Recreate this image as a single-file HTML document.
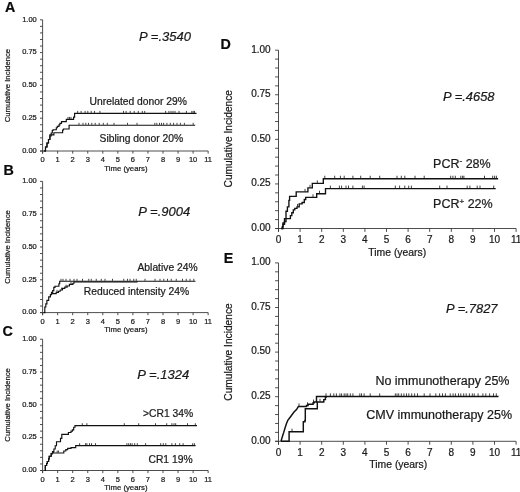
<!DOCTYPE html>
<html><head><meta charset="utf-8"><style>
html,body{margin:0;padding:0;background:#fff;}
body{width:520px;height:492px;overflow:hidden;}
svg{display:block;font-family:"Liberation Sans", sans-serif;filter:blur(0.3px);}
text{stroke:#1a1a1a;stroke-width:0.22px;}
</style></head><body>
<svg width="520" height="492" viewBox="0 0 520 492">
<rect width="520" height="492" fill="#fff"/>
<text x="5.00" y="11.80" font-size="14.3" text-anchor="start" font-weight="bold" fill="#0a0a0a">A</text>
<line x1="42.60" y1="19.80" x2="42.60" y2="153.60" stroke="#3a3a3a" stroke-width="0.9"/>
<line x1="40.00" y1="151.00" x2="208.15" y2="151.00" stroke="#3a3a3a" stroke-width="0.9"/>
<line x1="40.00" y1="151.00" x2="42.60" y2="151.00" stroke="#3a3a3a" stroke-width="0.9"/>
<line x1="40.00" y1="144.44" x2="42.60" y2="144.44" stroke="#3a3a3a" stroke-width="0.9"/>
<line x1="40.00" y1="137.88" x2="42.60" y2="137.88" stroke="#3a3a3a" stroke-width="0.9"/>
<line x1="40.00" y1="131.32" x2="42.60" y2="131.32" stroke="#3a3a3a" stroke-width="0.9"/>
<line x1="40.00" y1="124.76" x2="42.60" y2="124.76" stroke="#3a3a3a" stroke-width="0.9"/>
<line x1="40.00" y1="118.20" x2="42.60" y2="118.20" stroke="#3a3a3a" stroke-width="0.9"/>
<line x1="40.00" y1="111.64" x2="42.60" y2="111.64" stroke="#3a3a3a" stroke-width="0.9"/>
<line x1="40.00" y1="105.08" x2="42.60" y2="105.08" stroke="#3a3a3a" stroke-width="0.9"/>
<line x1="40.00" y1="98.52" x2="42.60" y2="98.52" stroke="#3a3a3a" stroke-width="0.9"/>
<line x1="40.00" y1="91.96" x2="42.60" y2="91.96" stroke="#3a3a3a" stroke-width="0.9"/>
<line x1="40.00" y1="85.40" x2="42.60" y2="85.40" stroke="#3a3a3a" stroke-width="0.9"/>
<line x1="40.00" y1="78.84" x2="42.60" y2="78.84" stroke="#3a3a3a" stroke-width="0.9"/>
<line x1="40.00" y1="72.28" x2="42.60" y2="72.28" stroke="#3a3a3a" stroke-width="0.9"/>
<line x1="40.00" y1="65.72" x2="42.60" y2="65.72" stroke="#3a3a3a" stroke-width="0.9"/>
<line x1="40.00" y1="59.16" x2="42.60" y2="59.16" stroke="#3a3a3a" stroke-width="0.9"/>
<line x1="40.00" y1="52.60" x2="42.60" y2="52.60" stroke="#3a3a3a" stroke-width="0.9"/>
<line x1="40.00" y1="46.04" x2="42.60" y2="46.04" stroke="#3a3a3a" stroke-width="0.9"/>
<line x1="40.00" y1="39.48" x2="42.60" y2="39.48" stroke="#3a3a3a" stroke-width="0.9"/>
<line x1="40.00" y1="32.92" x2="42.60" y2="32.92" stroke="#3a3a3a" stroke-width="0.9"/>
<line x1="40.00" y1="26.36" x2="42.60" y2="26.36" stroke="#3a3a3a" stroke-width="0.9"/>
<line x1="40.00" y1="19.80" x2="42.60" y2="19.80" stroke="#3a3a3a" stroke-width="0.9"/>
<text x="36.80" y="152.75" font-size="7.5" text-anchor="end" font-weight="normal" fill="#1a1a1a">0.00</text>
<text x="36.80" y="119.95" font-size="7.5" text-anchor="end" font-weight="normal" fill="#1a1a1a">0.25</text>
<text x="36.80" y="87.16" font-size="7.5" text-anchor="end" font-weight="normal" fill="#1a1a1a">0.50</text>
<text x="36.80" y="54.36" font-size="7.5" text-anchor="end" font-weight="normal" fill="#1a1a1a">0.75</text>
<text x="36.80" y="21.56" font-size="7.5" text-anchor="end" font-weight="normal" fill="#1a1a1a">1.00</text>
<line x1="42.60" y1="151.00" x2="42.60" y2="153.60" stroke="#3a3a3a" stroke-width="0.9"/>
<text x="42.60" y="162.10" font-size="7.5" text-anchor="middle" font-weight="normal" fill="#1a1a1a">0</text>
<line x1="57.65" y1="151.00" x2="57.65" y2="153.60" stroke="#3a3a3a" stroke-width="0.9"/>
<text x="57.65" y="162.10" font-size="7.5" text-anchor="middle" font-weight="normal" fill="#1a1a1a">1</text>
<line x1="72.70" y1="151.00" x2="72.70" y2="153.60" stroke="#3a3a3a" stroke-width="0.9"/>
<text x="72.70" y="162.10" font-size="7.5" text-anchor="middle" font-weight="normal" fill="#1a1a1a">2</text>
<line x1="87.75" y1="151.00" x2="87.75" y2="153.60" stroke="#3a3a3a" stroke-width="0.9"/>
<text x="87.75" y="162.10" font-size="7.5" text-anchor="middle" font-weight="normal" fill="#1a1a1a">3</text>
<line x1="102.80" y1="151.00" x2="102.80" y2="153.60" stroke="#3a3a3a" stroke-width="0.9"/>
<text x="102.80" y="162.10" font-size="7.5" text-anchor="middle" font-weight="normal" fill="#1a1a1a">4</text>
<line x1="117.85" y1="151.00" x2="117.85" y2="153.60" stroke="#3a3a3a" stroke-width="0.9"/>
<text x="117.85" y="162.10" font-size="7.5" text-anchor="middle" font-weight="normal" fill="#1a1a1a">5</text>
<line x1="132.90" y1="151.00" x2="132.90" y2="153.60" stroke="#3a3a3a" stroke-width="0.9"/>
<text x="132.90" y="162.10" font-size="7.5" text-anchor="middle" font-weight="normal" fill="#1a1a1a">6</text>
<line x1="147.95" y1="151.00" x2="147.95" y2="153.60" stroke="#3a3a3a" stroke-width="0.9"/>
<text x="147.95" y="162.10" font-size="7.5" text-anchor="middle" font-weight="normal" fill="#1a1a1a">7</text>
<line x1="163.00" y1="151.00" x2="163.00" y2="153.60" stroke="#3a3a3a" stroke-width="0.9"/>
<text x="163.00" y="162.10" font-size="7.5" text-anchor="middle" font-weight="normal" fill="#1a1a1a">8</text>
<line x1="178.05" y1="151.00" x2="178.05" y2="153.60" stroke="#3a3a3a" stroke-width="0.9"/>
<text x="178.05" y="162.10" font-size="7.5" text-anchor="middle" font-weight="normal" fill="#1a1a1a">9</text>
<line x1="193.10" y1="151.00" x2="193.10" y2="153.60" stroke="#3a3a3a" stroke-width="0.9"/>
<text x="193.10" y="162.10" font-size="7.5" text-anchor="middle" font-weight="normal" fill="#1a1a1a">10</text>
<line x1="208.15" y1="151.00" x2="208.15" y2="153.60" stroke="#3a3a3a" stroke-width="0.9"/>
<text x="208.15" y="162.10" font-size="7.5" text-anchor="middle" font-weight="normal" fill="#1a1a1a">11</text>
<text x="104.30" y="170.70" font-size="7.75" text-anchor="start" font-weight="normal" fill="#1a1a1a">Time (years)</text>
<text x="0" y="0" font-size="7.7" text-anchor="middle" fill="#1a1a1a" transform="translate(9.80,85.60) rotate(-90)">Cumulative Incidence</text>
<text x="3.60" y="174.90" font-size="14.3" text-anchor="start" font-weight="bold" fill="#0a0a0a">B</text>
<line x1="42.60" y1="181.40" x2="42.60" y2="315.20" stroke="#3a3a3a" stroke-width="0.9"/>
<line x1="40.00" y1="312.60" x2="208.15" y2="312.60" stroke="#3a3a3a" stroke-width="0.9"/>
<line x1="40.00" y1="312.60" x2="42.60" y2="312.60" stroke="#3a3a3a" stroke-width="0.9"/>
<line x1="40.00" y1="306.04" x2="42.60" y2="306.04" stroke="#3a3a3a" stroke-width="0.9"/>
<line x1="40.00" y1="299.48" x2="42.60" y2="299.48" stroke="#3a3a3a" stroke-width="0.9"/>
<line x1="40.00" y1="292.92" x2="42.60" y2="292.92" stroke="#3a3a3a" stroke-width="0.9"/>
<line x1="40.00" y1="286.36" x2="42.60" y2="286.36" stroke="#3a3a3a" stroke-width="0.9"/>
<line x1="40.00" y1="279.80" x2="42.60" y2="279.80" stroke="#3a3a3a" stroke-width="0.9"/>
<line x1="40.00" y1="273.24" x2="42.60" y2="273.24" stroke="#3a3a3a" stroke-width="0.9"/>
<line x1="40.00" y1="266.68" x2="42.60" y2="266.68" stroke="#3a3a3a" stroke-width="0.9"/>
<line x1="40.00" y1="260.12" x2="42.60" y2="260.12" stroke="#3a3a3a" stroke-width="0.9"/>
<line x1="40.00" y1="253.56" x2="42.60" y2="253.56" stroke="#3a3a3a" stroke-width="0.9"/>
<line x1="40.00" y1="247.00" x2="42.60" y2="247.00" stroke="#3a3a3a" stroke-width="0.9"/>
<line x1="40.00" y1="240.44" x2="42.60" y2="240.44" stroke="#3a3a3a" stroke-width="0.9"/>
<line x1="40.00" y1="233.88" x2="42.60" y2="233.88" stroke="#3a3a3a" stroke-width="0.9"/>
<line x1="40.00" y1="227.32" x2="42.60" y2="227.32" stroke="#3a3a3a" stroke-width="0.9"/>
<line x1="40.00" y1="220.76" x2="42.60" y2="220.76" stroke="#3a3a3a" stroke-width="0.9"/>
<line x1="40.00" y1="214.20" x2="42.60" y2="214.20" stroke="#3a3a3a" stroke-width="0.9"/>
<line x1="40.00" y1="207.64" x2="42.60" y2="207.64" stroke="#3a3a3a" stroke-width="0.9"/>
<line x1="40.00" y1="201.08" x2="42.60" y2="201.08" stroke="#3a3a3a" stroke-width="0.9"/>
<line x1="40.00" y1="194.52" x2="42.60" y2="194.52" stroke="#3a3a3a" stroke-width="0.9"/>
<line x1="40.00" y1="187.96" x2="42.60" y2="187.96" stroke="#3a3a3a" stroke-width="0.9"/>
<line x1="40.00" y1="181.40" x2="42.60" y2="181.40" stroke="#3a3a3a" stroke-width="0.9"/>
<text x="36.80" y="314.36" font-size="7.5" text-anchor="end" font-weight="normal" fill="#1a1a1a">0.00</text>
<text x="36.80" y="281.56" font-size="7.5" text-anchor="end" font-weight="normal" fill="#1a1a1a">0.25</text>
<text x="36.80" y="248.75" font-size="7.5" text-anchor="end" font-weight="normal" fill="#1a1a1a">0.50</text>
<text x="36.80" y="215.96" font-size="7.5" text-anchor="end" font-weight="normal" fill="#1a1a1a">0.75</text>
<text x="36.80" y="183.16" font-size="7.5" text-anchor="end" font-weight="normal" fill="#1a1a1a">1.00</text>
<line x1="42.60" y1="312.60" x2="42.60" y2="315.20" stroke="#3a3a3a" stroke-width="0.9"/>
<text x="42.60" y="323.70" font-size="7.5" text-anchor="middle" font-weight="normal" fill="#1a1a1a">0</text>
<line x1="57.65" y1="312.60" x2="57.65" y2="315.20" stroke="#3a3a3a" stroke-width="0.9"/>
<text x="57.65" y="323.70" font-size="7.5" text-anchor="middle" font-weight="normal" fill="#1a1a1a">1</text>
<line x1="72.70" y1="312.60" x2="72.70" y2="315.20" stroke="#3a3a3a" stroke-width="0.9"/>
<text x="72.70" y="323.70" font-size="7.5" text-anchor="middle" font-weight="normal" fill="#1a1a1a">2</text>
<line x1="87.75" y1="312.60" x2="87.75" y2="315.20" stroke="#3a3a3a" stroke-width="0.9"/>
<text x="87.75" y="323.70" font-size="7.5" text-anchor="middle" font-weight="normal" fill="#1a1a1a">3</text>
<line x1="102.80" y1="312.60" x2="102.80" y2="315.20" stroke="#3a3a3a" stroke-width="0.9"/>
<text x="102.80" y="323.70" font-size="7.5" text-anchor="middle" font-weight="normal" fill="#1a1a1a">4</text>
<line x1="117.85" y1="312.60" x2="117.85" y2="315.20" stroke="#3a3a3a" stroke-width="0.9"/>
<text x="117.85" y="323.70" font-size="7.5" text-anchor="middle" font-weight="normal" fill="#1a1a1a">5</text>
<line x1="132.90" y1="312.60" x2="132.90" y2="315.20" stroke="#3a3a3a" stroke-width="0.9"/>
<text x="132.90" y="323.70" font-size="7.5" text-anchor="middle" font-weight="normal" fill="#1a1a1a">6</text>
<line x1="147.95" y1="312.60" x2="147.95" y2="315.20" stroke="#3a3a3a" stroke-width="0.9"/>
<text x="147.95" y="323.70" font-size="7.5" text-anchor="middle" font-weight="normal" fill="#1a1a1a">7</text>
<line x1="163.00" y1="312.60" x2="163.00" y2="315.20" stroke="#3a3a3a" stroke-width="0.9"/>
<text x="163.00" y="323.70" font-size="7.5" text-anchor="middle" font-weight="normal" fill="#1a1a1a">8</text>
<line x1="178.05" y1="312.60" x2="178.05" y2="315.20" stroke="#3a3a3a" stroke-width="0.9"/>
<text x="178.05" y="323.70" font-size="7.5" text-anchor="middle" font-weight="normal" fill="#1a1a1a">9</text>
<line x1="193.10" y1="312.60" x2="193.10" y2="315.20" stroke="#3a3a3a" stroke-width="0.9"/>
<text x="193.10" y="323.70" font-size="7.5" text-anchor="middle" font-weight="normal" fill="#1a1a1a">10</text>
<line x1="208.15" y1="312.60" x2="208.15" y2="315.20" stroke="#3a3a3a" stroke-width="0.9"/>
<text x="208.15" y="323.70" font-size="7.5" text-anchor="middle" font-weight="normal" fill="#1a1a1a">11</text>
<text x="104.30" y="332.30" font-size="7.75" text-anchor="start" font-weight="normal" fill="#1a1a1a">Time (years)</text>
<text x="0" y="0" font-size="7.7" text-anchor="middle" fill="#1a1a1a" transform="translate(9.80,247.00) rotate(-90)">Cumulative Incidence</text>
<text x="2.60" y="336.30" font-size="14.3" text-anchor="start" font-weight="bold" fill="#0a0a0a">C</text>
<line x1="42.60" y1="339.20" x2="42.60" y2="473.10" stroke="#3a3a3a" stroke-width="0.9"/>
<line x1="40.00" y1="470.50" x2="208.15" y2="470.50" stroke="#3a3a3a" stroke-width="0.9"/>
<line x1="40.00" y1="470.50" x2="42.60" y2="470.50" stroke="#3a3a3a" stroke-width="0.9"/>
<line x1="40.00" y1="463.94" x2="42.60" y2="463.94" stroke="#3a3a3a" stroke-width="0.9"/>
<line x1="40.00" y1="457.37" x2="42.60" y2="457.37" stroke="#3a3a3a" stroke-width="0.9"/>
<line x1="40.00" y1="450.81" x2="42.60" y2="450.81" stroke="#3a3a3a" stroke-width="0.9"/>
<line x1="40.00" y1="444.24" x2="42.60" y2="444.24" stroke="#3a3a3a" stroke-width="0.9"/>
<line x1="40.00" y1="437.68" x2="42.60" y2="437.68" stroke="#3a3a3a" stroke-width="0.9"/>
<line x1="40.00" y1="431.11" x2="42.60" y2="431.11" stroke="#3a3a3a" stroke-width="0.9"/>
<line x1="40.00" y1="424.55" x2="42.60" y2="424.55" stroke="#3a3a3a" stroke-width="0.9"/>
<line x1="40.00" y1="417.98" x2="42.60" y2="417.98" stroke="#3a3a3a" stroke-width="0.9"/>
<line x1="40.00" y1="411.42" x2="42.60" y2="411.42" stroke="#3a3a3a" stroke-width="0.9"/>
<line x1="40.00" y1="404.85" x2="42.60" y2="404.85" stroke="#3a3a3a" stroke-width="0.9"/>
<line x1="40.00" y1="398.28" x2="42.60" y2="398.28" stroke="#3a3a3a" stroke-width="0.9"/>
<line x1="40.00" y1="391.72" x2="42.60" y2="391.72" stroke="#3a3a3a" stroke-width="0.9"/>
<line x1="40.00" y1="385.15" x2="42.60" y2="385.15" stroke="#3a3a3a" stroke-width="0.9"/>
<line x1="40.00" y1="378.59" x2="42.60" y2="378.59" stroke="#3a3a3a" stroke-width="0.9"/>
<line x1="40.00" y1="372.02" x2="42.60" y2="372.02" stroke="#3a3a3a" stroke-width="0.9"/>
<line x1="40.00" y1="365.46" x2="42.60" y2="365.46" stroke="#3a3a3a" stroke-width="0.9"/>
<line x1="40.00" y1="358.89" x2="42.60" y2="358.89" stroke="#3a3a3a" stroke-width="0.9"/>
<line x1="40.00" y1="352.33" x2="42.60" y2="352.33" stroke="#3a3a3a" stroke-width="0.9"/>
<line x1="40.00" y1="345.76" x2="42.60" y2="345.76" stroke="#3a3a3a" stroke-width="0.9"/>
<line x1="40.00" y1="339.20" x2="42.60" y2="339.20" stroke="#3a3a3a" stroke-width="0.9"/>
<text x="36.80" y="472.25" font-size="7.5" text-anchor="end" font-weight="normal" fill="#1a1a1a">0.00</text>
<text x="36.80" y="439.43" font-size="7.5" text-anchor="end" font-weight="normal" fill="#1a1a1a">0.25</text>
<text x="36.80" y="406.61" font-size="7.5" text-anchor="end" font-weight="normal" fill="#1a1a1a">0.50</text>
<text x="36.80" y="373.78" font-size="7.5" text-anchor="end" font-weight="normal" fill="#1a1a1a">0.75</text>
<text x="36.80" y="340.95" font-size="7.5" text-anchor="end" font-weight="normal" fill="#1a1a1a">1.00</text>
<line x1="42.60" y1="470.50" x2="42.60" y2="473.10" stroke="#3a3a3a" stroke-width="0.9"/>
<text x="42.60" y="481.60" font-size="7.5" text-anchor="middle" font-weight="normal" fill="#1a1a1a">0</text>
<line x1="57.65" y1="470.50" x2="57.65" y2="473.10" stroke="#3a3a3a" stroke-width="0.9"/>
<text x="57.65" y="481.60" font-size="7.5" text-anchor="middle" font-weight="normal" fill="#1a1a1a">1</text>
<line x1="72.70" y1="470.50" x2="72.70" y2="473.10" stroke="#3a3a3a" stroke-width="0.9"/>
<text x="72.70" y="481.60" font-size="7.5" text-anchor="middle" font-weight="normal" fill="#1a1a1a">2</text>
<line x1="87.75" y1="470.50" x2="87.75" y2="473.10" stroke="#3a3a3a" stroke-width="0.9"/>
<text x="87.75" y="481.60" font-size="7.5" text-anchor="middle" font-weight="normal" fill="#1a1a1a">3</text>
<line x1="102.80" y1="470.50" x2="102.80" y2="473.10" stroke="#3a3a3a" stroke-width="0.9"/>
<text x="102.80" y="481.60" font-size="7.5" text-anchor="middle" font-weight="normal" fill="#1a1a1a">4</text>
<line x1="117.85" y1="470.50" x2="117.85" y2="473.10" stroke="#3a3a3a" stroke-width="0.9"/>
<text x="117.85" y="481.60" font-size="7.5" text-anchor="middle" font-weight="normal" fill="#1a1a1a">5</text>
<line x1="132.90" y1="470.50" x2="132.90" y2="473.10" stroke="#3a3a3a" stroke-width="0.9"/>
<text x="132.90" y="481.60" font-size="7.5" text-anchor="middle" font-weight="normal" fill="#1a1a1a">6</text>
<line x1="147.95" y1="470.50" x2="147.95" y2="473.10" stroke="#3a3a3a" stroke-width="0.9"/>
<text x="147.95" y="481.60" font-size="7.5" text-anchor="middle" font-weight="normal" fill="#1a1a1a">7</text>
<line x1="163.00" y1="470.50" x2="163.00" y2="473.10" stroke="#3a3a3a" stroke-width="0.9"/>
<text x="163.00" y="481.60" font-size="7.5" text-anchor="middle" font-weight="normal" fill="#1a1a1a">8</text>
<line x1="178.05" y1="470.50" x2="178.05" y2="473.10" stroke="#3a3a3a" stroke-width="0.9"/>
<text x="178.05" y="481.60" font-size="7.5" text-anchor="middle" font-weight="normal" fill="#1a1a1a">9</text>
<line x1="193.10" y1="470.50" x2="193.10" y2="473.10" stroke="#3a3a3a" stroke-width="0.9"/>
<text x="193.10" y="481.60" font-size="7.5" text-anchor="middle" font-weight="normal" fill="#1a1a1a">10</text>
<line x1="208.15" y1="470.50" x2="208.15" y2="473.10" stroke="#3a3a3a" stroke-width="0.9"/>
<text x="208.15" y="481.60" font-size="7.5" text-anchor="middle" font-weight="normal" fill="#1a1a1a">11</text>
<text x="104.30" y="490.20" font-size="7.75" text-anchor="start" font-weight="normal" fill="#1a1a1a">Time (years)</text>
<text x="0" y="0" font-size="7.7" text-anchor="middle" fill="#1a1a1a" transform="translate(9.80,404.90) rotate(-90)">Cumulative Incidence</text>
<text x="139.00" y="40.90" font-size="13" text-anchor="start" font-weight="normal" font-style="italic" fill="#1a1a1a">P =.3540</text>
<text x="89.60" y="105.20" font-size="10.3" text-anchor="start" font-weight="normal" fill="#1a1a1a">Unrelated donor 29%</text>
<text x="99.60" y="141.60" font-size="10.3" text-anchor="start" font-weight="normal" fill="#1a1a1a">Sibling donor 20%</text>
<polyline points="43.80,151.00 45.50,151.00 45.50,147.00 47.00,147.00 47.00,143.00 48.50,143.00 48.50,139.50 50.00,139.50 50.00,136.00 51.20,136.00 51.20,133.00 52.30,133.00 52.30,130.50 53.00,130.50 53.00,129.70 55.90,129.70 56.30,129.70 56.30,127.70 57.30,127.70 57.30,126.30 59.00,126.30 59.00,124.90 59.90,124.90 59.90,123.40 61.50,123.40 61.50,121.60 66.30,121.60 66.30,119.30 73.60,119.30 73.60,117.10 74.60,117.10 74.60,113.30 196.50,113.30" fill="none" stroke="#111" stroke-width="1.15" stroke-linejoin="miter" stroke-linecap="butt"/>
<polyline points="43.80,151.00 45.50,151.00 45.50,147.00 47.00,147.00 47.00,143.00 48.50,143.00 48.50,139.50 49.80,139.50 49.80,134.80 51.20,134.80 52.00,134.80 53.90,134.80 53.90,132.70 62.60,132.70 62.60,130.00 63.50,130.00 63.50,129.00 69.10,129.00 69.10,125.20 195.20,125.20" fill="none" stroke="#111" stroke-width="1.15" stroke-linejoin="miter" stroke-linecap="butt"/>
<line x1="68.00" y1="118.92" x2="68.00" y2="116.92" stroke="#111" stroke-width="0.8"/>
<line x1="69.50" y1="118.92" x2="69.50" y2="116.92" stroke="#111" stroke-width="0.8"/>
<line x1="71.00" y1="118.92" x2="71.00" y2="116.92" stroke="#111" stroke-width="0.8"/>
<line x1="77.70" y1="112.92" x2="77.70" y2="110.92" stroke="#111" stroke-width="0.8"/>
<line x1="81.10" y1="112.92" x2="81.10" y2="110.92" stroke="#111" stroke-width="0.8"/>
<line x1="85.10" y1="112.92" x2="85.10" y2="110.92" stroke="#111" stroke-width="0.8"/>
<line x1="87.80" y1="112.92" x2="87.80" y2="110.92" stroke="#111" stroke-width="0.8"/>
<line x1="91.20" y1="112.92" x2="91.20" y2="110.92" stroke="#111" stroke-width="0.8"/>
<line x1="94.50" y1="112.92" x2="94.50" y2="110.92" stroke="#111" stroke-width="0.8"/>
<line x1="99.90" y1="112.92" x2="99.90" y2="110.92" stroke="#111" stroke-width="0.8"/>
<line x1="123.50" y1="112.92" x2="123.50" y2="110.92" stroke="#111" stroke-width="0.8"/>
<line x1="126.10" y1="112.92" x2="126.10" y2="110.92" stroke="#111" stroke-width="0.8"/>
<line x1="130.20" y1="112.92" x2="130.20" y2="110.92" stroke="#111" stroke-width="0.8"/>
<line x1="134.20" y1="112.92" x2="134.20" y2="110.92" stroke="#111" stroke-width="0.8"/>
<line x1="138.30" y1="112.92" x2="138.30" y2="110.92" stroke="#111" stroke-width="0.8"/>
<line x1="142.30" y1="112.92" x2="142.30" y2="110.92" stroke="#111" stroke-width="0.8"/>
<line x1="144.70" y1="112.92" x2="144.70" y2="110.92" stroke="#111" stroke-width="0.8"/>
<line x1="165.60" y1="112.92" x2="165.60" y2="110.92" stroke="#111" stroke-width="0.8"/>
<line x1="168.90" y1="112.92" x2="168.90" y2="110.92" stroke="#111" stroke-width="0.8"/>
<line x1="171.00" y1="112.92" x2="171.00" y2="110.92" stroke="#111" stroke-width="0.8"/>
<line x1="173.00" y1="112.92" x2="173.00" y2="110.92" stroke="#111" stroke-width="0.8"/>
<line x1="175.00" y1="112.92" x2="175.00" y2="110.92" stroke="#111" stroke-width="0.8"/>
<line x1="179.00" y1="112.92" x2="179.00" y2="110.92" stroke="#111" stroke-width="0.8"/>
<line x1="186.40" y1="112.92" x2="186.40" y2="110.92" stroke="#111" stroke-width="0.8"/>
<line x1="191.80" y1="112.92" x2="191.80" y2="110.92" stroke="#111" stroke-width="0.8"/>
<line x1="193.20" y1="112.92" x2="193.20" y2="110.92" stroke="#111" stroke-width="0.8"/>
<line x1="194.50" y1="112.92" x2="194.50" y2="110.92" stroke="#111" stroke-width="0.8"/>
<line x1="79.00" y1="124.83" x2="79.00" y2="122.83" stroke="#111" stroke-width="0.8"/>
<line x1="83.00" y1="124.83" x2="83.00" y2="122.83" stroke="#111" stroke-width="0.8"/>
<line x1="85.80" y1="124.83" x2="85.80" y2="122.83" stroke="#111" stroke-width="0.8"/>
<line x1="88.50" y1="124.83" x2="88.50" y2="122.83" stroke="#111" stroke-width="0.8"/>
<line x1="91.80" y1="124.83" x2="91.80" y2="122.83" stroke="#111" stroke-width="0.8"/>
<line x1="95.20" y1="124.83" x2="95.20" y2="122.83" stroke="#111" stroke-width="0.8"/>
<line x1="99.20" y1="124.83" x2="99.20" y2="122.83" stroke="#111" stroke-width="0.8"/>
<line x1="103.30" y1="124.83" x2="103.30" y2="122.83" stroke="#111" stroke-width="0.8"/>
<line x1="107.30" y1="124.83" x2="107.30" y2="122.83" stroke="#111" stroke-width="0.8"/>
<line x1="114.00" y1="124.83" x2="114.00" y2="122.83" stroke="#111" stroke-width="0.8"/>
<line x1="127.50" y1="124.83" x2="127.50" y2="122.83" stroke="#111" stroke-width="0.8"/>
<line x1="137.00" y1="124.83" x2="137.00" y2="122.83" stroke="#111" stroke-width="0.8"/>
<line x1="154.80" y1="124.83" x2="154.80" y2="122.83" stroke="#111" stroke-width="0.8"/>
<line x1="156.80" y1="124.83" x2="156.80" y2="122.83" stroke="#111" stroke-width="0.8"/>
<line x1="159.50" y1="124.83" x2="159.50" y2="122.83" stroke="#111" stroke-width="0.8"/>
<line x1="161.50" y1="124.83" x2="161.50" y2="122.83" stroke="#111" stroke-width="0.8"/>
<line x1="163.60" y1="124.83" x2="163.60" y2="122.83" stroke="#111" stroke-width="0.8"/>
<line x1="166.90" y1="124.83" x2="166.90" y2="122.83" stroke="#111" stroke-width="0.8"/>
<line x1="170.30" y1="124.83" x2="170.30" y2="122.83" stroke="#111" stroke-width="0.8"/>
<line x1="173.60" y1="124.83" x2="173.60" y2="122.83" stroke="#111" stroke-width="0.8"/>
<line x1="177.00" y1="124.83" x2="177.00" y2="122.83" stroke="#111" stroke-width="0.8"/>
<line x1="180.40" y1="124.83" x2="180.40" y2="122.83" stroke="#111" stroke-width="0.8"/>
<line x1="184.40" y1="124.83" x2="184.40" y2="122.83" stroke="#111" stroke-width="0.8"/>
<line x1="193.20" y1="124.83" x2="193.20" y2="122.83" stroke="#111" stroke-width="0.8"/>
<text x="138.30" y="215.90" font-size="13" text-anchor="start" font-weight="normal" font-style="italic" fill="#1a1a1a">P =.9004</text>
<text x="137.50" y="270.50" font-size="10.3" text-anchor="start" font-weight="normal" fill="#1a1a1a">Ablative 24%</text>
<text x="83.80" y="295.00" font-size="10.3" text-anchor="start" font-weight="normal" fill="#1a1a1a">Reduced intensity 24%</text>
<polyline points="43.50,312.60 44.80,312.60 44.80,307.00 45.80,307.00 45.80,303.80 46.90,303.80 46.90,300.40 48.70,300.40 48.70,296.90 50.40,296.90 50.40,294.60 51.50,294.60 51.50,292.30 52.70,292.30 52.70,290.60 53.80,290.60 53.80,287.30 55.00,287.30 55.00,286.20 58.60,286.20 58.90,286.20 58.90,283.70 59.70,283.70 59.70,281.20 195.50,281.20" fill="none" stroke="#111" stroke-width="1.15" stroke-linejoin="miter" stroke-linecap="butt"/>
<polyline points="51.00,293.60 55.00,293.60 56.20,293.60 56.20,292.30 58.50,292.30 58.50,291.20 60.20,291.20 60.20,290.00 62.50,290.00 62.50,288.30 64.80,288.30 64.80,287.10 67.10,287.10 67.10,286.00 69.40,286.00 69.40,284.40 72.90,284.40 72.90,283.20 74.00,283.20 74.00,282.00 137.00,282.00 137.00,281.20" fill="none" stroke="#111" stroke-width="1.15" stroke-linejoin="miter" stroke-linecap="butt"/>
<line x1="61.00" y1="280.82" x2="61.00" y2="278.82" stroke="#111" stroke-width="0.8"/>
<line x1="63.00" y1="280.82" x2="63.00" y2="278.82" stroke="#111" stroke-width="0.8"/>
<line x1="66.00" y1="280.82" x2="66.00" y2="278.82" stroke="#111" stroke-width="0.8"/>
<line x1="70.00" y1="280.82" x2="70.00" y2="278.82" stroke="#111" stroke-width="0.8"/>
<line x1="74.00" y1="280.82" x2="74.00" y2="278.82" stroke="#111" stroke-width="0.8"/>
<line x1="77.00" y1="280.82" x2="77.00" y2="278.82" stroke="#111" stroke-width="0.8"/>
<line x1="82.50" y1="280.82" x2="82.50" y2="278.82" stroke="#111" stroke-width="0.8"/>
<line x1="88.75" y1="280.82" x2="88.75" y2="278.82" stroke="#111" stroke-width="0.8"/>
<line x1="91.25" y1="280.82" x2="91.25" y2="278.82" stroke="#111" stroke-width="0.8"/>
<line x1="96.25" y1="280.82" x2="96.25" y2="278.82" stroke="#111" stroke-width="0.8"/>
<line x1="101.25" y1="280.82" x2="101.25" y2="278.82" stroke="#111" stroke-width="0.8"/>
<line x1="105.00" y1="280.82" x2="105.00" y2="278.82" stroke="#111" stroke-width="0.8"/>
<line x1="112.50" y1="280.82" x2="112.50" y2="278.82" stroke="#111" stroke-width="0.8"/>
<line x1="123.75" y1="280.82" x2="123.75" y2="278.82" stroke="#111" stroke-width="0.8"/>
<line x1="127.50" y1="280.82" x2="127.50" y2="278.82" stroke="#111" stroke-width="0.8"/>
<line x1="130.00" y1="280.82" x2="130.00" y2="278.82" stroke="#111" stroke-width="0.8"/>
<line x1="133.75" y1="280.82" x2="133.75" y2="278.82" stroke="#111" stroke-width="0.8"/>
<line x1="136.25" y1="280.82" x2="136.25" y2="278.82" stroke="#111" stroke-width="0.8"/>
<line x1="145.00" y1="280.82" x2="145.00" y2="278.82" stroke="#111" stroke-width="0.8"/>
<line x1="155.00" y1="280.82" x2="155.00" y2="278.82" stroke="#111" stroke-width="0.8"/>
<line x1="160.00" y1="280.82" x2="160.00" y2="278.82" stroke="#111" stroke-width="0.8"/>
<line x1="163.75" y1="280.82" x2="163.75" y2="278.82" stroke="#111" stroke-width="0.8"/>
<line x1="167.50" y1="280.82" x2="167.50" y2="278.82" stroke="#111" stroke-width="0.8"/>
<line x1="171.25" y1="280.82" x2="171.25" y2="278.82" stroke="#111" stroke-width="0.8"/>
<line x1="176.25" y1="280.82" x2="176.25" y2="278.82" stroke="#111" stroke-width="0.8"/>
<line x1="182.50" y1="280.82" x2="182.50" y2="278.82" stroke="#111" stroke-width="0.8"/>
<line x1="186.25" y1="280.82" x2="186.25" y2="278.82" stroke="#111" stroke-width="0.8"/>
<line x1="190.00" y1="280.82" x2="190.00" y2="278.82" stroke="#111" stroke-width="0.8"/>
<line x1="193.75" y1="280.82" x2="193.75" y2="278.82" stroke="#111" stroke-width="0.8"/>
<line x1="57.00" y1="291.93" x2="57.00" y2="289.93" stroke="#111" stroke-width="0.8"/>
<line x1="61.50" y1="289.62" x2="61.50" y2="287.62" stroke="#111" stroke-width="0.8"/>
<line x1="66.00" y1="286.73" x2="66.00" y2="284.73" stroke="#111" stroke-width="0.8"/>
<line x1="71.00" y1="284.02" x2="71.00" y2="282.02" stroke="#111" stroke-width="0.8"/>
<text x="137.30" y="378.80" font-size="13" text-anchor="start" font-weight="normal" font-style="italic" fill="#1a1a1a">P =.1324</text>
<text x="143.00" y="417.40" font-size="10.3" text-anchor="start" font-weight="normal" fill="#1a1a1a">&gt;CR1 34%</text>
<text x="148.50" y="462.60" font-size="10.3" text-anchor="start" font-weight="normal" fill="#1a1a1a">CR1 19%</text>
<polyline points="44.60,470.50 45.30,470.50 45.30,465.50 46.60,465.50 46.60,463.50 47.30,463.50 47.30,461.50 48.60,461.50 48.60,458.90 49.20,458.90 49.20,456.20 51.20,456.20 51.20,453.60 52.50,453.60 52.50,451.60 53.90,451.60 53.90,449.00 55.20,449.00 55.20,445.70 56.50,445.70 56.50,441.70 59.80,441.70 60.50,441.70 60.50,438.40 61.80,438.40 61.80,434.40 67.70,434.40 68.40,434.40 68.40,432.50 71.00,432.50 71.00,431.10 72.40,431.10 72.40,429.80 73.70,429.80 73.70,427.20 75.00,427.20 75.00,425.60 197.00,425.60" fill="none" stroke="#111" stroke-width="1.15" stroke-linejoin="miter" stroke-linecap="butt"/>
<polyline points="44.60,470.50 45.30,470.50 45.30,465.50 46.60,465.50 46.60,463.50 47.30,463.50 47.30,461.50 48.60,461.50 48.60,458.90 49.20,458.90 49.20,456.20 51.20,456.20 51.20,453.60 52.50,453.60 52.50,452.60 53.20,452.60 53.20,453.00 63.10,453.00 63.80,453.00 63.80,451.00 65.80,451.00 65.80,449.60 67.70,449.60 67.70,448.30 71.00,448.30 71.00,447.60 75.00,447.60 75.70,447.60 75.70,445.60 195.60,445.60" fill="none" stroke="#111" stroke-width="1.15" stroke-linejoin="miter" stroke-linecap="butt"/>
<line x1="82.30" y1="425.23" x2="82.30" y2="423.23" stroke="#111" stroke-width="0.8"/>
<line x1="86.90" y1="425.23" x2="86.90" y2="423.23" stroke="#111" stroke-width="0.8"/>
<line x1="124.30" y1="425.23" x2="124.30" y2="423.23" stroke="#111" stroke-width="0.8"/>
<line x1="138.70" y1="425.23" x2="138.70" y2="423.23" stroke="#111" stroke-width="0.8"/>
<line x1="155.50" y1="425.23" x2="155.50" y2="423.23" stroke="#111" stroke-width="0.8"/>
<line x1="166.70" y1="425.23" x2="166.70" y2="423.23" stroke="#111" stroke-width="0.8"/>
<line x1="171.90" y1="425.23" x2="171.90" y2="423.23" stroke="#111" stroke-width="0.8"/>
<line x1="174.00" y1="425.23" x2="174.00" y2="423.23" stroke="#111" stroke-width="0.8"/>
<line x1="175.70" y1="425.23" x2="175.70" y2="423.23" stroke="#111" stroke-width="0.8"/>
<line x1="187.50" y1="425.23" x2="187.50" y2="423.23" stroke="#111" stroke-width="0.8"/>
<line x1="195.30" y1="425.23" x2="195.30" y2="423.23" stroke="#111" stroke-width="0.8"/>
<line x1="57.20" y1="452.62" x2="57.20" y2="450.62" stroke="#111" stroke-width="0.8"/>
<line x1="58.50" y1="452.62" x2="58.50" y2="450.62" stroke="#111" stroke-width="0.8"/>
<line x1="79.60" y1="445.23" x2="79.60" y2="443.23" stroke="#111" stroke-width="0.8"/>
<line x1="85.60" y1="445.23" x2="85.60" y2="443.23" stroke="#111" stroke-width="0.8"/>
<line x1="86.90" y1="445.23" x2="86.90" y2="443.23" stroke="#111" stroke-width="0.8"/>
<line x1="89.50" y1="445.23" x2="89.50" y2="443.23" stroke="#111" stroke-width="0.8"/>
<line x1="91.50" y1="445.23" x2="91.50" y2="443.23" stroke="#111" stroke-width="0.8"/>
<line x1="95.50" y1="445.23" x2="95.50" y2="443.23" stroke="#111" stroke-width="0.8"/>
<line x1="126.90" y1="445.23" x2="126.90" y2="443.23" stroke="#111" stroke-width="0.8"/>
<line x1="128.70" y1="445.23" x2="128.70" y2="443.23" stroke="#111" stroke-width="0.8"/>
<line x1="130.40" y1="445.23" x2="130.40" y2="443.23" stroke="#111" stroke-width="0.8"/>
<line x1="132.10" y1="445.23" x2="132.10" y2="443.23" stroke="#111" stroke-width="0.8"/>
<line x1="134.70" y1="445.23" x2="134.70" y2="443.23" stroke="#111" stroke-width="0.8"/>
<line x1="137.30" y1="445.23" x2="137.30" y2="443.23" stroke="#111" stroke-width="0.8"/>
<line x1="145.60" y1="445.23" x2="145.60" y2="443.23" stroke="#111" stroke-width="0.8"/>
<line x1="160.70" y1="445.23" x2="160.70" y2="443.23" stroke="#111" stroke-width="0.8"/>
<line x1="163.30" y1="445.23" x2="163.30" y2="443.23" stroke="#111" stroke-width="0.8"/>
<line x1="165.80" y1="445.23" x2="165.80" y2="443.23" stroke="#111" stroke-width="0.8"/>
<line x1="171.90" y1="445.23" x2="171.90" y2="443.23" stroke="#111" stroke-width="0.8"/>
<line x1="175.40" y1="445.23" x2="175.40" y2="443.23" stroke="#111" stroke-width="0.8"/>
<line x1="179.70" y1="445.23" x2="179.70" y2="443.23" stroke="#111" stroke-width="0.8"/>
<line x1="183.10" y1="445.23" x2="183.10" y2="443.23" stroke="#111" stroke-width="0.8"/>
<line x1="192.70" y1="445.23" x2="192.70" y2="443.23" stroke="#111" stroke-width="0.8"/>
<line x1="194.40" y1="445.23" x2="194.40" y2="443.23" stroke="#111" stroke-width="0.8"/>
<text x="220.50" y="48.70" font-size="14.3" text-anchor="start" font-weight="bold" fill="#0a0a0a">D</text>
<line x1="278.50" y1="50.20" x2="278.50" y2="231.90" stroke="#3a3a3a" stroke-width="0.9"/>
<line x1="275.10" y1="228.50" x2="516.10" y2="228.50" stroke="#3a3a3a" stroke-width="0.9"/>
<line x1="275.10" y1="228.50" x2="278.50" y2="228.50" stroke="#3a3a3a" stroke-width="0.9"/>
<line x1="275.10" y1="219.59" x2="278.50" y2="219.59" stroke="#3a3a3a" stroke-width="0.9"/>
<line x1="275.10" y1="210.67" x2="278.50" y2="210.67" stroke="#3a3a3a" stroke-width="0.9"/>
<line x1="275.10" y1="201.75" x2="278.50" y2="201.75" stroke="#3a3a3a" stroke-width="0.9"/>
<line x1="275.10" y1="192.84" x2="278.50" y2="192.84" stroke="#3a3a3a" stroke-width="0.9"/>
<line x1="275.10" y1="183.93" x2="278.50" y2="183.93" stroke="#3a3a3a" stroke-width="0.9"/>
<line x1="275.10" y1="175.01" x2="278.50" y2="175.01" stroke="#3a3a3a" stroke-width="0.9"/>
<line x1="275.10" y1="166.09" x2="278.50" y2="166.09" stroke="#3a3a3a" stroke-width="0.9"/>
<line x1="275.10" y1="157.18" x2="278.50" y2="157.18" stroke="#3a3a3a" stroke-width="0.9"/>
<line x1="275.10" y1="148.26" x2="278.50" y2="148.26" stroke="#3a3a3a" stroke-width="0.9"/>
<line x1="275.10" y1="139.35" x2="278.50" y2="139.35" stroke="#3a3a3a" stroke-width="0.9"/>
<line x1="275.10" y1="130.44" x2="278.50" y2="130.44" stroke="#3a3a3a" stroke-width="0.9"/>
<line x1="275.10" y1="121.52" x2="278.50" y2="121.52" stroke="#3a3a3a" stroke-width="0.9"/>
<line x1="275.10" y1="112.60" x2="278.50" y2="112.60" stroke="#3a3a3a" stroke-width="0.9"/>
<line x1="275.10" y1="103.69" x2="278.50" y2="103.69" stroke="#3a3a3a" stroke-width="0.9"/>
<line x1="275.10" y1="94.78" x2="278.50" y2="94.78" stroke="#3a3a3a" stroke-width="0.9"/>
<line x1="275.10" y1="85.86" x2="278.50" y2="85.86" stroke="#3a3a3a" stroke-width="0.9"/>
<line x1="275.10" y1="76.94" x2="278.50" y2="76.94" stroke="#3a3a3a" stroke-width="0.9"/>
<line x1="275.10" y1="68.03" x2="278.50" y2="68.03" stroke="#3a3a3a" stroke-width="0.9"/>
<line x1="275.10" y1="59.11" x2="278.50" y2="59.11" stroke="#3a3a3a" stroke-width="0.9"/>
<line x1="275.10" y1="50.20" x2="278.50" y2="50.20" stroke="#3a3a3a" stroke-width="0.9"/>
<text x="270.70" y="230.84" font-size="10.0" text-anchor="end" font-weight="normal" fill="#1a1a1a">0.00</text>
<text x="270.70" y="186.27" font-size="10.0" text-anchor="end" font-weight="normal" fill="#1a1a1a">0.25</text>
<text x="270.70" y="141.69" font-size="10.0" text-anchor="end" font-weight="normal" fill="#1a1a1a">0.50</text>
<text x="270.70" y="97.11" font-size="10.0" text-anchor="end" font-weight="normal" fill="#1a1a1a">0.75</text>
<text x="270.70" y="52.54" font-size="10.0" text-anchor="end" font-weight="normal" fill="#1a1a1a">1.00</text>
<line x1="278.50" y1="228.50" x2="278.50" y2="231.90" stroke="#3a3a3a" stroke-width="0.9"/>
<text x="278.50" y="242.70" font-size="10.0" text-anchor="middle" font-weight="normal" fill="#1a1a1a">0</text>
<line x1="300.10" y1="228.50" x2="300.10" y2="231.90" stroke="#3a3a3a" stroke-width="0.9"/>
<text x="300.10" y="242.70" font-size="10.0" text-anchor="middle" font-weight="normal" fill="#1a1a1a">1</text>
<line x1="321.70" y1="228.50" x2="321.70" y2="231.90" stroke="#3a3a3a" stroke-width="0.9"/>
<text x="321.70" y="242.70" font-size="10.0" text-anchor="middle" font-weight="normal" fill="#1a1a1a">2</text>
<line x1="343.30" y1="228.50" x2="343.30" y2="231.90" stroke="#3a3a3a" stroke-width="0.9"/>
<text x="343.30" y="242.70" font-size="10.0" text-anchor="middle" font-weight="normal" fill="#1a1a1a">3</text>
<line x1="364.90" y1="228.50" x2="364.90" y2="231.90" stroke="#3a3a3a" stroke-width="0.9"/>
<text x="364.90" y="242.70" font-size="10.0" text-anchor="middle" font-weight="normal" fill="#1a1a1a">4</text>
<line x1="386.50" y1="228.50" x2="386.50" y2="231.90" stroke="#3a3a3a" stroke-width="0.9"/>
<text x="386.50" y="242.70" font-size="10.0" text-anchor="middle" font-weight="normal" fill="#1a1a1a">5</text>
<line x1="408.10" y1="228.50" x2="408.10" y2="231.90" stroke="#3a3a3a" stroke-width="0.9"/>
<text x="408.10" y="242.70" font-size="10.0" text-anchor="middle" font-weight="normal" fill="#1a1a1a">6</text>
<line x1="429.70" y1="228.50" x2="429.70" y2="231.90" stroke="#3a3a3a" stroke-width="0.9"/>
<text x="429.70" y="242.70" font-size="10.0" text-anchor="middle" font-weight="normal" fill="#1a1a1a">7</text>
<line x1="451.30" y1="228.50" x2="451.30" y2="231.90" stroke="#3a3a3a" stroke-width="0.9"/>
<text x="451.30" y="242.70" font-size="10.0" text-anchor="middle" font-weight="normal" fill="#1a1a1a">8</text>
<line x1="472.90" y1="228.50" x2="472.90" y2="231.90" stroke="#3a3a3a" stroke-width="0.9"/>
<text x="472.90" y="242.70" font-size="10.0" text-anchor="middle" font-weight="normal" fill="#1a1a1a">9</text>
<line x1="494.50" y1="228.50" x2="494.50" y2="231.90" stroke="#3a3a3a" stroke-width="0.9"/>
<text x="494.50" y="242.70" font-size="10.0" text-anchor="middle" font-weight="normal" fill="#1a1a1a">10</text>
<line x1="516.10" y1="228.50" x2="516.10" y2="231.90" stroke="#3a3a3a" stroke-width="0.9"/>
<text x="516.10" y="242.70" font-size="10.0" text-anchor="middle" font-weight="normal" fill="#1a1a1a">11</text>
<text x="368.30" y="256.20" font-size="10.4" text-anchor="start" font-weight="normal" fill="#1a1a1a">Time (years)</text>
<text x="0" y="0" font-size="10.2" text-anchor="middle" fill="#1a1a1a" transform="translate(231.60,138.70) rotate(-90)">Cumulative Incidence</text>
<text x="443.00" y="100.80" font-size="12.9" text-anchor="start" font-weight="normal" font-style="italic" fill="#1a1a1a">P =.4658</text>
<text x="433.10" y="167.90" font-size="12.5" text-anchor="start" font-weight="normal" fill="#1a1a1a">PCR<tspan font-size="8" dy="-5">-</tspan><tspan dy="5"> 28%</tspan></text>
<text x="433.10" y="208.20" font-size="12.5" text-anchor="start" font-weight="normal" fill="#1a1a1a">PCR<tspan font-size="8" dy="-4.5">+</tspan><tspan dy="4.5"> 22%</tspan></text>
<polyline points="280.90,228.50 282.30,228.50 282.30,226.60 283.00,226.60 283.00,223.00 284.50,223.00 284.50,218.60 286.00,218.60 286.00,211.20 287.40,211.20 287.40,206.90 288.90,206.90 288.90,200.30 289.60,200.30 289.60,196.30 296.20,196.30 296.20,191.90 307.90,191.90 307.90,187.80 312.30,187.80 312.30,183.40 323.30,183.40 323.30,178.70 498.10,178.70" fill="none" stroke="#111" stroke-width="1.35" stroke-linejoin="miter" stroke-linecap="butt"/>
<polyline points="281.50,228.50 283.00,228.50 283.00,224.40 284.50,224.40 284.50,221.50 286.00,221.50 286.00,218.60 289.60,218.60 290.40,218.60 290.40,215.60 291.80,215.60 291.80,212.70 293.30,212.70 293.30,209.80 294.80,209.80 294.80,208.30 297.00,208.30 297.00,206.90 299.20,206.90 299.20,203.90 302.10,203.90 302.10,202.50 304.30,202.50 304.30,199.50 305.70,199.50 305.70,197.30 316.00,197.30 316.70,197.30 316.70,193.70 324.80,193.70 325.50,193.70 325.50,188.60 495.70,188.60" fill="none" stroke="#111" stroke-width="1.35" stroke-linejoin="miter" stroke-linecap="butt"/>
<line x1="305.00" y1="191.53" x2="305.00" y2="188.93" stroke="#111" stroke-width="0.8"/>
<line x1="310.00" y1="187.43" x2="310.00" y2="184.83" stroke="#111" stroke-width="0.8"/>
<line x1="317.30" y1="183.03" x2="317.30" y2="180.43" stroke="#111" stroke-width="0.8"/>
<line x1="324.80" y1="178.32" x2="324.80" y2="175.72" stroke="#111" stroke-width="0.8"/>
<line x1="334.70" y1="178.32" x2="334.70" y2="175.72" stroke="#111" stroke-width="0.8"/>
<line x1="340.40" y1="178.32" x2="340.40" y2="175.72" stroke="#111" stroke-width="0.8"/>
<line x1="344.20" y1="178.32" x2="344.20" y2="175.72" stroke="#111" stroke-width="0.8"/>
<line x1="352.90" y1="178.32" x2="352.90" y2="175.72" stroke="#111" stroke-width="0.8"/>
<line x1="360.70" y1="178.32" x2="360.70" y2="175.72" stroke="#111" stroke-width="0.8"/>
<line x1="370.20" y1="178.32" x2="370.20" y2="175.72" stroke="#111" stroke-width="0.8"/>
<line x1="379.70" y1="178.32" x2="379.70" y2="175.72" stroke="#111" stroke-width="0.8"/>
<line x1="397.00" y1="178.32" x2="397.00" y2="175.72" stroke="#111" stroke-width="0.8"/>
<line x1="401.30" y1="178.32" x2="401.30" y2="175.72" stroke="#111" stroke-width="0.8"/>
<line x1="404.80" y1="178.32" x2="404.80" y2="175.72" stroke="#111" stroke-width="0.8"/>
<line x1="415.00" y1="178.32" x2="415.00" y2="175.72" stroke="#111" stroke-width="0.8"/>
<line x1="424.20" y1="178.32" x2="424.20" y2="175.72" stroke="#111" stroke-width="0.8"/>
<line x1="450.70" y1="178.32" x2="450.70" y2="175.72" stroke="#111" stroke-width="0.8"/>
<line x1="452.90" y1="178.32" x2="452.90" y2="175.72" stroke="#111" stroke-width="0.8"/>
<line x1="455.30" y1="178.32" x2="455.30" y2="175.72" stroke="#111" stroke-width="0.8"/>
<line x1="460.80" y1="178.32" x2="460.80" y2="175.72" stroke="#111" stroke-width="0.8"/>
<line x1="462.60" y1="178.32" x2="462.60" y2="175.72" stroke="#111" stroke-width="0.8"/>
<line x1="463.90" y1="178.32" x2="463.90" y2="175.72" stroke="#111" stroke-width="0.8"/>
<line x1="484.50" y1="178.32" x2="484.50" y2="175.72" stroke="#111" stroke-width="0.8"/>
<line x1="492.70" y1="178.32" x2="492.70" y2="175.72" stroke="#111" stroke-width="0.8"/>
<line x1="494.60" y1="178.32" x2="494.60" y2="175.72" stroke="#111" stroke-width="0.8"/>
<line x1="496.40" y1="178.32" x2="496.40" y2="175.72" stroke="#111" stroke-width="0.8"/>
<line x1="297.50" y1="206.53" x2="297.50" y2="203.93" stroke="#111" stroke-width="0.8"/>
<line x1="313.00" y1="196.93" x2="313.00" y2="194.33" stroke="#111" stroke-width="0.8"/>
<line x1="319.50" y1="193.32" x2="319.50" y2="190.72" stroke="#111" stroke-width="0.8"/>
<line x1="330.40" y1="188.22" x2="330.40" y2="185.62" stroke="#111" stroke-width="0.8"/>
<line x1="339.40" y1="188.22" x2="339.40" y2="185.62" stroke="#111" stroke-width="0.8"/>
<line x1="341.60" y1="188.22" x2="341.60" y2="185.62" stroke="#111" stroke-width="0.8"/>
<line x1="346.00" y1="188.22" x2="346.00" y2="185.62" stroke="#111" stroke-width="0.8"/>
<line x1="348.50" y1="188.22" x2="348.50" y2="185.62" stroke="#111" stroke-width="0.8"/>
<line x1="352.90" y1="188.22" x2="352.90" y2="185.62" stroke="#111" stroke-width="0.8"/>
<line x1="362.40" y1="188.22" x2="362.40" y2="185.62" stroke="#111" stroke-width="0.8"/>
<line x1="364.10" y1="188.22" x2="364.10" y2="185.62" stroke="#111" stroke-width="0.8"/>
<line x1="395.30" y1="188.22" x2="395.30" y2="185.62" stroke="#111" stroke-width="0.8"/>
<line x1="399.60" y1="188.22" x2="399.60" y2="185.62" stroke="#111" stroke-width="0.8"/>
<line x1="404.80" y1="188.22" x2="404.80" y2="185.62" stroke="#111" stroke-width="0.8"/>
<line x1="408.70" y1="188.22" x2="408.70" y2="185.62" stroke="#111" stroke-width="0.8"/>
<line x1="411.40" y1="188.22" x2="411.40" y2="185.62" stroke="#111" stroke-width="0.8"/>
<line x1="439.70" y1="188.22" x2="439.70" y2="185.62" stroke="#111" stroke-width="0.8"/>
<line x1="447.00" y1="188.22" x2="447.00" y2="185.62" stroke="#111" stroke-width="0.8"/>
<line x1="467.20" y1="188.22" x2="467.20" y2="185.62" stroke="#111" stroke-width="0.8"/>
<line x1="469.90" y1="188.22" x2="469.90" y2="185.62" stroke="#111" stroke-width="0.8"/>
<line x1="477.20" y1="188.22" x2="477.20" y2="185.62" stroke="#111" stroke-width="0.8"/>
<line x1="480.00" y1="188.22" x2="480.00" y2="185.62" stroke="#111" stroke-width="0.8"/>
<line x1="493.70" y1="188.22" x2="493.70" y2="185.62" stroke="#111" stroke-width="0.8"/>
<text x="223.70" y="262.70" font-size="14.3" text-anchor="start" font-weight="bold" fill="#0a0a0a">E</text>
<line x1="278.50" y1="262.90" x2="278.50" y2="444.70" stroke="#3a3a3a" stroke-width="0.9"/>
<line x1="275.10" y1="441.30" x2="516.10" y2="441.30" stroke="#3a3a3a" stroke-width="0.9"/>
<line x1="275.10" y1="441.30" x2="278.50" y2="441.30" stroke="#3a3a3a" stroke-width="0.9"/>
<line x1="275.10" y1="432.38" x2="278.50" y2="432.38" stroke="#3a3a3a" stroke-width="0.9"/>
<line x1="275.10" y1="423.46" x2="278.50" y2="423.46" stroke="#3a3a3a" stroke-width="0.9"/>
<line x1="275.10" y1="414.54" x2="278.50" y2="414.54" stroke="#3a3a3a" stroke-width="0.9"/>
<line x1="275.10" y1="405.62" x2="278.50" y2="405.62" stroke="#3a3a3a" stroke-width="0.9"/>
<line x1="275.10" y1="396.70" x2="278.50" y2="396.70" stroke="#3a3a3a" stroke-width="0.9"/>
<line x1="275.10" y1="387.78" x2="278.50" y2="387.78" stroke="#3a3a3a" stroke-width="0.9"/>
<line x1="275.10" y1="378.86" x2="278.50" y2="378.86" stroke="#3a3a3a" stroke-width="0.9"/>
<line x1="275.10" y1="369.94" x2="278.50" y2="369.94" stroke="#3a3a3a" stroke-width="0.9"/>
<line x1="275.10" y1="361.02" x2="278.50" y2="361.02" stroke="#3a3a3a" stroke-width="0.9"/>
<line x1="275.10" y1="352.10" x2="278.50" y2="352.10" stroke="#3a3a3a" stroke-width="0.9"/>
<line x1="275.10" y1="343.18" x2="278.50" y2="343.18" stroke="#3a3a3a" stroke-width="0.9"/>
<line x1="275.10" y1="334.26" x2="278.50" y2="334.26" stroke="#3a3a3a" stroke-width="0.9"/>
<line x1="275.10" y1="325.34" x2="278.50" y2="325.34" stroke="#3a3a3a" stroke-width="0.9"/>
<line x1="275.10" y1="316.42" x2="278.50" y2="316.42" stroke="#3a3a3a" stroke-width="0.9"/>
<line x1="275.10" y1="307.50" x2="278.50" y2="307.50" stroke="#3a3a3a" stroke-width="0.9"/>
<line x1="275.10" y1="298.58" x2="278.50" y2="298.58" stroke="#3a3a3a" stroke-width="0.9"/>
<line x1="275.10" y1="289.66" x2="278.50" y2="289.66" stroke="#3a3a3a" stroke-width="0.9"/>
<line x1="275.10" y1="280.74" x2="278.50" y2="280.74" stroke="#3a3a3a" stroke-width="0.9"/>
<line x1="275.10" y1="271.82" x2="278.50" y2="271.82" stroke="#3a3a3a" stroke-width="0.9"/>
<line x1="275.10" y1="262.90" x2="278.50" y2="262.90" stroke="#3a3a3a" stroke-width="0.9"/>
<text x="270.70" y="443.64" font-size="10.0" text-anchor="end" font-weight="normal" fill="#1a1a1a">0.00</text>
<text x="270.70" y="399.04" font-size="10.0" text-anchor="end" font-weight="normal" fill="#1a1a1a">0.25</text>
<text x="270.70" y="354.44" font-size="10.0" text-anchor="end" font-weight="normal" fill="#1a1a1a">0.50</text>
<text x="270.70" y="309.84" font-size="10.0" text-anchor="end" font-weight="normal" fill="#1a1a1a">0.75</text>
<text x="270.70" y="265.24" font-size="10.0" text-anchor="end" font-weight="normal" fill="#1a1a1a">1.00</text>
<line x1="278.50" y1="441.30" x2="278.50" y2="444.70" stroke="#3a3a3a" stroke-width="0.9"/>
<text x="278.50" y="455.70" font-size="10.0" text-anchor="middle" font-weight="normal" fill="#1a1a1a">0</text>
<line x1="300.10" y1="441.30" x2="300.10" y2="444.70" stroke="#3a3a3a" stroke-width="0.9"/>
<text x="300.10" y="455.70" font-size="10.0" text-anchor="middle" font-weight="normal" fill="#1a1a1a">1</text>
<line x1="321.70" y1="441.30" x2="321.70" y2="444.70" stroke="#3a3a3a" stroke-width="0.9"/>
<text x="321.70" y="455.70" font-size="10.0" text-anchor="middle" font-weight="normal" fill="#1a1a1a">2</text>
<line x1="343.30" y1="441.30" x2="343.30" y2="444.70" stroke="#3a3a3a" stroke-width="0.9"/>
<text x="343.30" y="455.70" font-size="10.0" text-anchor="middle" font-weight="normal" fill="#1a1a1a">3</text>
<line x1="364.90" y1="441.30" x2="364.90" y2="444.70" stroke="#3a3a3a" stroke-width="0.9"/>
<text x="364.90" y="455.70" font-size="10.0" text-anchor="middle" font-weight="normal" fill="#1a1a1a">4</text>
<line x1="386.50" y1="441.30" x2="386.50" y2="444.70" stroke="#3a3a3a" stroke-width="0.9"/>
<text x="386.50" y="455.70" font-size="10.0" text-anchor="middle" font-weight="normal" fill="#1a1a1a">5</text>
<line x1="408.10" y1="441.30" x2="408.10" y2="444.70" stroke="#3a3a3a" stroke-width="0.9"/>
<text x="408.10" y="455.70" font-size="10.0" text-anchor="middle" font-weight="normal" fill="#1a1a1a">6</text>
<line x1="429.70" y1="441.30" x2="429.70" y2="444.70" stroke="#3a3a3a" stroke-width="0.9"/>
<text x="429.70" y="455.70" font-size="10.0" text-anchor="middle" font-weight="normal" fill="#1a1a1a">7</text>
<line x1="451.30" y1="441.30" x2="451.30" y2="444.70" stroke="#3a3a3a" stroke-width="0.9"/>
<text x="451.30" y="455.70" font-size="10.0" text-anchor="middle" font-weight="normal" fill="#1a1a1a">8</text>
<line x1="472.90" y1="441.30" x2="472.90" y2="444.70" stroke="#3a3a3a" stroke-width="0.9"/>
<text x="472.90" y="455.70" font-size="10.0" text-anchor="middle" font-weight="normal" fill="#1a1a1a">9</text>
<line x1="494.50" y1="441.30" x2="494.50" y2="444.70" stroke="#3a3a3a" stroke-width="0.9"/>
<text x="494.50" y="455.70" font-size="10.0" text-anchor="middle" font-weight="normal" fill="#1a1a1a">10</text>
<line x1="516.10" y1="441.30" x2="516.10" y2="444.70" stroke="#3a3a3a" stroke-width="0.9"/>
<text x="516.10" y="455.70" font-size="10.0" text-anchor="middle" font-weight="normal" fill="#1a1a1a">11</text>
<text x="369.30" y="468.40" font-size="10.4" text-anchor="start" font-weight="normal" fill="#1a1a1a">Time (years)</text>
<text x="0" y="0" font-size="10.2" text-anchor="middle" fill="#1a1a1a" transform="translate(231.60,352.00) rotate(-90)">Cumulative Incidence</text>
<text x="446.00" y="313.20" font-size="12.9" text-anchor="start" font-weight="normal" font-style="italic" fill="#1a1a1a">P =.7827</text>
<text x="375.40" y="385.00" font-size="12.5" text-anchor="start" font-weight="normal" fill="#1a1a1a">No immunotherapy 25%</text>
<text x="366.20" y="418.60" font-size="12.5" text-anchor="start" font-weight="normal" fill="#1a1a1a">CMV immunotherapy 25%</text>
<polyline points="281.00,441.30 282.40,436.50 283.70,432.50 285.10,427.80 286.40,423.70 287.80,420.40 289.80,417.70 291.80,415.00 293.80,412.30 296.50,409.60 298.40,406.50 298.40,406.50 306.20,406.50 306.50,406.50 306.50,405.40 308.10,405.40 308.10,404.20 312.70,404.20 313.10,404.20 313.10,402.70 314.20,402.70 314.20,401.90 316.50,401.90 316.50,396.50 498.50,396.50" fill="none" stroke="#111" stroke-width="1.45" stroke-linejoin="miter" stroke-linecap="butt"/>
<polyline points="281.00,441.30 289.10,441.30 289.10,431.80 303.30,431.80 303.30,421.70 304.90,421.70 304.90,420.40 305.30,420.40 305.30,408.80 317.30,408.80 317.30,401.90 322.70,401.90 323.80,401.90 323.80,399.60 325.40,399.60 325.40,397.30 326.00,397.30 326.00,396.50" fill="none" stroke="#111" stroke-width="1.45" stroke-linejoin="miter" stroke-linecap="butt"/>
<line x1="299.00" y1="405.97" x2="299.00" y2="403.38" stroke="#111" stroke-width="0.8"/>
<line x1="307.50" y1="404.87" x2="307.50" y2="402.27" stroke="#111" stroke-width="0.8"/>
<line x1="313.50" y1="402.17" x2="313.50" y2="399.57" stroke="#111" stroke-width="0.8"/>
<line x1="326.00" y1="395.97" x2="326.00" y2="393.38" stroke="#111" stroke-width="0.8"/>
<line x1="330.40" y1="395.97" x2="330.40" y2="393.38" stroke="#111" stroke-width="0.8"/>
<line x1="333.80" y1="395.97" x2="333.80" y2="393.38" stroke="#111" stroke-width="0.8"/>
<line x1="336.40" y1="395.97" x2="336.40" y2="393.38" stroke="#111" stroke-width="0.8"/>
<line x1="339.90" y1="395.97" x2="339.90" y2="393.38" stroke="#111" stroke-width="0.8"/>
<line x1="341.60" y1="395.97" x2="341.60" y2="393.38" stroke="#111" stroke-width="0.8"/>
<line x1="344.20" y1="395.97" x2="344.20" y2="393.38" stroke="#111" stroke-width="0.8"/>
<line x1="346.00" y1="395.97" x2="346.00" y2="393.38" stroke="#111" stroke-width="0.8"/>
<line x1="347.70" y1="395.97" x2="347.70" y2="393.38" stroke="#111" stroke-width="0.8"/>
<line x1="350.30" y1="395.97" x2="350.30" y2="393.38" stroke="#111" stroke-width="0.8"/>
<line x1="352.90" y1="395.97" x2="352.90" y2="393.38" stroke="#111" stroke-width="0.8"/>
<line x1="359.80" y1="395.97" x2="359.80" y2="393.38" stroke="#111" stroke-width="0.8"/>
<line x1="361.50" y1="395.97" x2="361.50" y2="393.38" stroke="#111" stroke-width="0.8"/>
<line x1="364.10" y1="395.97" x2="364.10" y2="393.38" stroke="#111" stroke-width="0.8"/>
<line x1="370.20" y1="395.97" x2="370.20" y2="393.38" stroke="#111" stroke-width="0.8"/>
<line x1="379.70" y1="395.97" x2="379.70" y2="393.38" stroke="#111" stroke-width="0.8"/>
<line x1="395.30" y1="395.97" x2="395.30" y2="393.38" stroke="#111" stroke-width="0.8"/>
<line x1="397.00" y1="395.97" x2="397.00" y2="393.38" stroke="#111" stroke-width="0.8"/>
<line x1="398.70" y1="395.97" x2="398.70" y2="393.38" stroke="#111" stroke-width="0.8"/>
<line x1="401.30" y1="395.97" x2="401.30" y2="393.38" stroke="#111" stroke-width="0.8"/>
<line x1="403.90" y1="395.97" x2="403.90" y2="393.38" stroke="#111" stroke-width="0.8"/>
<line x1="406.50" y1="395.97" x2="406.50" y2="393.38" stroke="#111" stroke-width="0.8"/>
<line x1="408.80" y1="395.97" x2="408.80" y2="393.38" stroke="#111" stroke-width="0.8"/>
<line x1="411.70" y1="395.97" x2="411.70" y2="393.38" stroke="#111" stroke-width="0.8"/>
<line x1="414.60" y1="395.97" x2="414.60" y2="393.38" stroke="#111" stroke-width="0.8"/>
<line x1="417.50" y1="395.97" x2="417.50" y2="393.38" stroke="#111" stroke-width="0.8"/>
<line x1="424.20" y1="395.97" x2="424.20" y2="393.38" stroke="#111" stroke-width="0.8"/>
<line x1="430.00" y1="395.97" x2="430.00" y2="393.38" stroke="#111" stroke-width="0.8"/>
<line x1="435.80" y1="395.97" x2="435.80" y2="393.38" stroke="#111" stroke-width="0.8"/>
<line x1="439.60" y1="395.97" x2="439.60" y2="393.38" stroke="#111" stroke-width="0.8"/>
<line x1="442.50" y1="395.97" x2="442.50" y2="393.38" stroke="#111" stroke-width="0.8"/>
<line x1="445.40" y1="395.97" x2="445.40" y2="393.38" stroke="#111" stroke-width="0.8"/>
<line x1="450.20" y1="395.97" x2="450.20" y2="393.38" stroke="#111" stroke-width="0.8"/>
<line x1="453.10" y1="395.97" x2="453.10" y2="393.38" stroke="#111" stroke-width="0.8"/>
<line x1="455.40" y1="395.97" x2="455.40" y2="393.38" stroke="#111" stroke-width="0.8"/>
<line x1="458.50" y1="395.97" x2="458.50" y2="393.38" stroke="#111" stroke-width="0.8"/>
<line x1="460.80" y1="395.97" x2="460.80" y2="393.38" stroke="#111" stroke-width="0.8"/>
<line x1="463.70" y1="395.97" x2="463.70" y2="393.38" stroke="#111" stroke-width="0.8"/>
<line x1="466.20" y1="395.97" x2="466.20" y2="393.38" stroke="#111" stroke-width="0.8"/>
<line x1="469.40" y1="395.97" x2="469.40" y2="393.38" stroke="#111" stroke-width="0.8"/>
<line x1="472.30" y1="395.97" x2="472.30" y2="393.38" stroke="#111" stroke-width="0.8"/>
<line x1="474.20" y1="395.97" x2="474.20" y2="393.38" stroke="#111" stroke-width="0.8"/>
<line x1="478.10" y1="395.97" x2="478.10" y2="393.38" stroke="#111" stroke-width="0.8"/>
<line x1="482.90" y1="395.97" x2="482.90" y2="393.38" stroke="#111" stroke-width="0.8"/>
<line x1="485.80" y1="395.97" x2="485.80" y2="393.38" stroke="#111" stroke-width="0.8"/>
<line x1="489.60" y1="395.97" x2="489.60" y2="393.38" stroke="#111" stroke-width="0.8"/>
<line x1="493.50" y1="395.97" x2="493.50" y2="393.38" stroke="#111" stroke-width="0.8"/>
<line x1="496.30" y1="395.97" x2="496.30" y2="393.38" stroke="#111" stroke-width="0.8"/>
<line x1="292.00" y1="431.27" x2="292.00" y2="428.68" stroke="#111" stroke-width="0.8"/>
<line x1="320.00" y1="401.37" x2="320.00" y2="398.77" stroke="#111" stroke-width="0.8"/>
</svg>
</body></html>
